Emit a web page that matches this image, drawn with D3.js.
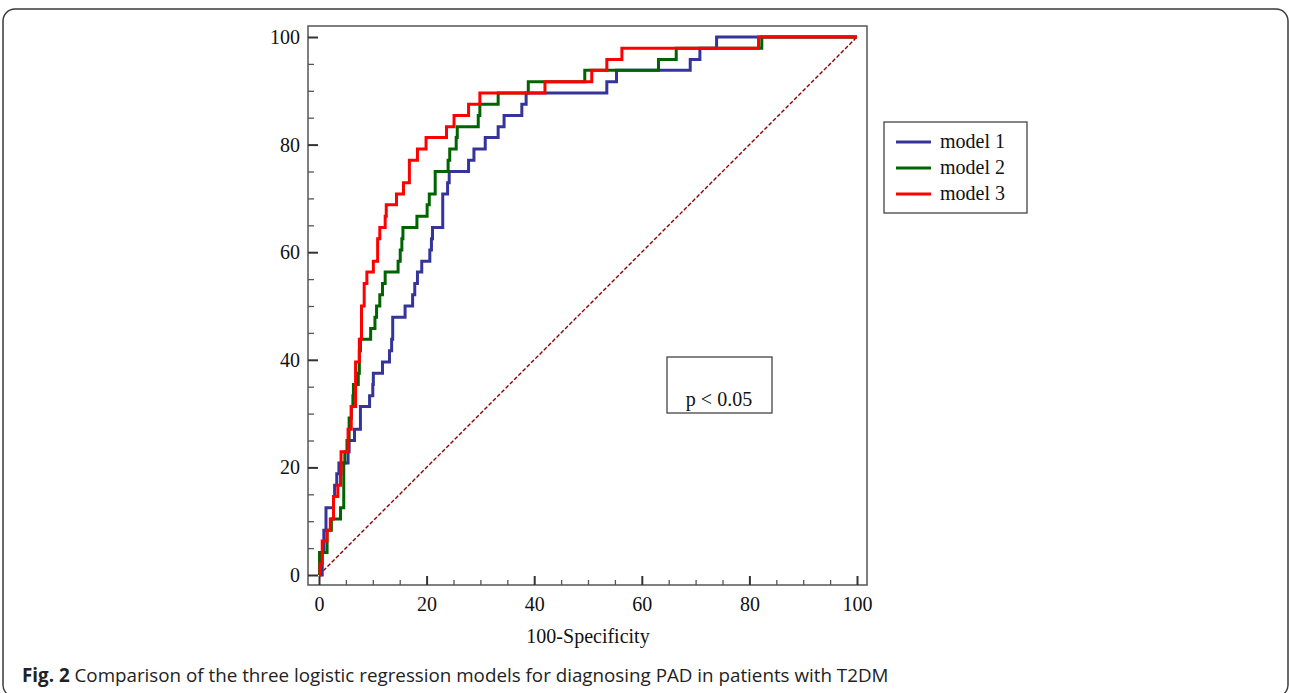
<!DOCTYPE html>
<html>
<head>
<meta charset="utf-8">
<script src="https://cdn.jsdelivr.net/npm/d3@7/dist/d3.min.js"></script>
<style>
  body { margin: 0; background: #fff; }
  svg { display: block; }
</style>
</head>
<body>
<div id="chart"></div>
<script>
// ROC step points: [100-Specificity, Sensitivity] at the top of each vertical step
let model1 = [[0,0],[0.6,4.2],[0.9,8.3],[1.3,12.5],[2.7,14.6],[2.9,16.7],[3.3,18.8],[3.7,20.8],[5.4,22.9],[5.6,25.0],[6.6,27.1],[7.7,31.3],[9.4,33.3],[10.0,35.4],[10.1,37.5],[11.8,39.6],[13.1,41.7],[13.5,43.8],[13.7,47.9],[16.0,50.0],[17.4,52.1],[17.8,54.2],[18.3,56.3],[19.1,58.3],[20.6,60.4],[20.9,62.5],[21.1,64.6],[23.0,70.8],[23.9,72.9],[24.2,75.0],[27.8,77.1],[28.8,79.2],[30.9,81.3],[33.3,83.3],[34.4,85.4],[37.7,87.5],[38.5,89.6],[53.5,91.7],[55.3,93.8],[69.0,95.8],[70.8,97.9],[73.9,100],[100,100]];
let model2 = [[0,0],[0.1,4.2],[1.5,8.3],[2.3,10.4],[4.0,12.5],[4.6,20.8],[4.8,22.9],[5.2,25.0],[5.6,29.2],[6.0,31.3],[6.3,33.3],[6.4,35.4],[7.3,37.5],[7.5,41.7],[7.7,43.8],[9.6,45.8],[10.4,47.9],[10.7,50.0],[11.3,52.1],[11.8,54.2],[12.3,56.3],[14.7,58.3],[15.1,60.4],[15.4,62.5],[15.6,64.6],[18.2,66.7],[20.1,68.8],[20.5,70.8],[21.6,75.0],[24.0,77.1],[24.3,79.2],[25.5,81.3],[25.7,83.3],[29.6,85.4],[29.9,87.5],[33.3,89.6],[38.9,91.7],[49.4,93.8],[63.1,95.8],[66.4,97.9],[82.3,100],[100,100]];
let model3 = [[0,0],[0.2,2.1],[0.6,6.3],[1.5,8.3],[2.1,10.4],[2.7,14.6],[3.5,16.7],[4.0,18.8],[4.1,22.9],[5.4,27.1],[6.0,31.3],[6.8,39.6],[7.5,43.8],[7.9,50.0],[8.4,54.2],[8.9,56.3],[10.1,58.3],[10.9,62.5],[11.3,64.6],[12.3,66.7],[12.5,68.8],[14.4,70.8],[15.7,72.9],[16.8,77.1],[18.3,79.2],[19.9,81.3],[23.7,83.3],[25.1,85.4],[27.8,87.5],[29.9,89.6],[42.0,91.7],[50.7,93.8],[53.5,95.8],[56.3,97.9],[81.7,100],[100,100]];

let seriesNames = ["model 1", "model 2", "model 3"];
let seriesColors = ["#35349a", "#006400", "#ff0000"];
let majorTicks = [0, 20, 40, 60, 80, 100];
let minorTicks = d3.range(0, 101, 5).filter(d => d % 20 !== 0);

let width = 1289, height = 693;

let svg = d3.select("#chart")
    .append("svg")
    .attr("width", width)
    .attr("height", height);

// outer rounded panel (bottom edge runs off the page)
svg.append("rect")
    .attr("x", 3)
    .attr("y", 9)
    .attr("width", 1285)
    .attr("height", 688)
    .attr("rx", 12)
    .style("fill", "none")
    .style("stroke", "#3a3a3a")
    .style("stroke-width", 1.5);

let x = d3.scaleLinear().domain([0, 100]).range([319, 857]);
let y = d3.scaleLinear().domain([0, 100]).range([575, 37]);

let frame = { left: 308, right: 867, top: 26, bottom: 585 };

// plot frame
svg.append("rect")
    .attr("x", frame.left)
    .attr("y", frame.top)
    .attr("width", frame.right - frame.left)
    .attr("height", frame.bottom - frame.top)
    .style("fill", "none")
    .style("stroke", "#555")
    .style("stroke-width", 1.5);

// y axis (ticks point inward)
let yAxis = svg.append("g")
    .attr("transform", "translate(" + frame.left + ",0)")
    .call(d3.axisLeft(y).tickValues(majorTicks).tickSize(-10).tickPadding(8));
let yMinor = svg.append("g")
    .attr("transform", "translate(" + frame.left + ",0)")
    .call(d3.axisLeft(y).tickValues(minorTicks).tickSize(-6).tickFormat(""));

let xAxis = svg.append("g")
    .attr("transform", "translate(0," + frame.bottom + ")")
    .call(d3.axisBottom(x).tickValues(majorTicks).tickSize(-9).tickPadding(12));
let xMinor = svg.append("g")
    .attr("transform", "translate(0," + frame.bottom + ")")
    .call(d3.axisBottom(x).tickValues(minorTicks).tickSize(-5).tickFormat(""));

svg.selectAll(".domain").remove();
svg.selectAll(".tick line")
    .style("stroke", "#333")
    .style("stroke-width", 2);
[yMinor, xMinor].forEach(g => g.selectAll(".tick line").style("stroke-width", 1.3).style("stroke", "#555"));
svg.selectAll(".tick text")
    .style("font-family", "'Liberation Serif', 'Times New Roman', serif")
    .style("font-size", "20px")
    .style("fill", "#111");

// axis title
svg.append("text")
    .attr("x", 588)
    .attr("y", 643)
    .text("100-Specificity")
    .style("text-anchor", "middle")
    .style("font-family", "'Liberation Serif', 'Times New Roman', serif")
    .style("font-size", "20px")
    .style("fill", "#111");

// reference diagonal
svg.append("line")
    .attr("x1", x(0))
    .attr("y1", y(0))
    .attr("x2", x(100))
    .attr("y2", y(100))
    .style("stroke", "#8b0000")
    .style("stroke-width", 1.4)
    .style("stroke-dasharray", "4,2");

// ROC curves
let line = d3.line()
    .curve(d3.curveStepAfter)
    .x(d => x(d[0]))
    .y(d => y(d[1]));

[model1, model2, model3].forEach(function (data, i) {
    svg.append("path")
        .datum(data)
        .attr("d", line)
        .style("fill", "none")
        .style("stroke", seriesColors[i])
        .style("stroke-width", 3);
});

// legend
let legend = svg.append("g");
legend.append("rect")
    .attr("x", 884)
    .attr("y", 122)
    .attr("width", 143)
    .attr("height", 91)
    .style("fill", "#fff")
    .style("stroke", "#444")
    .style("stroke-width", 1.3);

seriesNames.forEach(function (name, i) {
    let ly = 142 + i * 26;
    legend.append("line")
        .attr("x1", 896)
        .attr("x2", 931)
        .attr("y1", ly)
        .attr("y2", ly)
        .style("stroke", seriesColors[i])
        .style("stroke-width", 3);
    legend.append("text")
        .attr("x", 940)
        .attr("y", ly + 6)
        .text(name)
        .style("font-family", "'Liberation Serif', 'Times New Roman', serif")
        .style("font-size", "20px")
        .style("fill", "#111");
});

// p-value box
svg.append("rect")
    .attr("x", 667)
    .attr("y", 357)
    .attr("width", 105)
    .attr("height", 56)
    .style("fill", "#fff")
    .style("stroke", "#444")
    .style("stroke-width", 1.3);
svg.append("text")
    .attr("x", 719)
    .attr("y", 406)
    .text("p < 0.05")
    .style("text-anchor", "middle")
    .style("font-family", "'Liberation Serif', 'Times New Roman', serif")
    .style("font-size", "20px")
    .style("fill", "#111");

// caption
let caption = svg.append("text")
    .attr("x", 22)
    .attr("y", 682)
    .style("font-family", "'Open Sans', 'Noto Sans', sans-serif")
    .style("font-size", "18.8px")
    .style("fill", "#222");
caption.append("tspan")
    .style("font-weight", 700)
    .text("Fig. 2");
caption.append("tspan")
    .text(" Comparison of the three logistic regression models for diagnosing PAD in patients with T2DM");
</script>
</body>
</html>
